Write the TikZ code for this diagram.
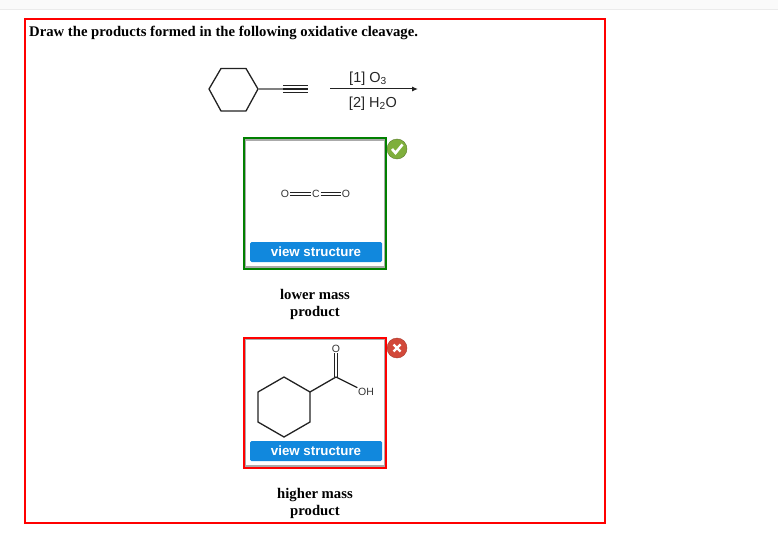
\documentclass[tikz,border=0pt]{standalone}
\usepackage{fontspec}
\setmainfont{Liberation Serif}
\newfontfamily\chemfont{Liberation Sans}
\usetikzlibrary{calc,positioning,arrows.meta}
\definecolor{btnblue}{HTML}{1188DD}
\definecolor{okgreen}{HTML}{008000}
\definecolor{okball}{HTML}{7FAF3C}
\definecolor{badball}{HTML}{D2493A}
\definecolor{innergray}{HTML}{AAAAAA}
\definecolor{bondgray}{HTML}{222222}
\tikzset{
  caption/.style={font=\fontsize{14.7}{17}\selectfont\bfseries,inner sep=0pt,align=center},
  reagent/.style={font=\chemfont\fontsize{14.5}{16}\selectfont,text=black!85,inner sep=0pt},
  atom/.style={font=\chemfont\fontsize{10.5}{11}\selectfont,inner sep=.6pt,text=black!80},
  bond/.style={line width=1.3pt,color=bondgray},
  thinbond/.style={line width=1.1pt,color=bondgray},
  viewbtn/.style={fill=btnblue,rounded corners=1.5pt,text=white,minimum width=132pt,minimum height=20pt,inner sep=0pt,font=\chemfont\fontsize{13.3}{15}\selectfont\bfseries},
  answer/.style={draw,line width=2pt,minimum width=142.5pt,minimum height=130pt,inner sep=0pt},
  inner/.style={draw=innergray,line width=1.2pt,minimum width=139.5pt,minimum height=127pt,inner sep=0pt},
  ball/.style={circle,minimum size=20pt,inner sep=0pt}
}
\begin{document}
\begin{tikzpicture}[x=1pt,y=-1pt]
\useasboundingbox (0,0) rectangle (778,540);
\fill[black!2] (0,0) rectangle (778,9);
\draw[black!8,line width=1pt] (0,9.5) -- (778,9.5);

\node[draw=red,line width=2pt,minimum width=580pt,minimum height=504pt,inner sep=0pt] (frame) at (315,271) {};
\node[caption,anchor=west] (title) at (29,33) {Draw the products formed in the following oxidative cleavage.};

% reactant
\coordinate (r1) at (209,89);
\coordinate (r2) at (221,68.5);
\coordinate (r3) at (246,68.5);
\coordinate (r4) at (258,89);
\coordinate (r5) at (246,111);
\coordinate (r6) at (221,111);
\coordinate (t1) at (283,89);
\coordinate (t2) at (308,89);
\draw[bond] (r1) -- (r2) -- (r3) -- (r4) -- (r5) -- (r6) -- cycle;
\draw[bond,black!50] (r4) -- (t1);
\draw[bond] (t1) -- (t2);
\draw[bond] ([yshift=-3.8pt]t1) -- ([yshift=-3.8pt]t2);
\draw[bond] ([yshift=3.8pt]t1) -- ([yshift=3.8pt]t2);

\coordinate (a1) at (330,89);
\coordinate (a2) at (418,89);
\draw[line width=1pt,color=bondgray,-{Latex[length=6pt,width=5pt]}] (a1) -- (a2);
\node[reagent] (ozone) at (368,78.5) {[1] O\textsubscript{3}};
\node[reagent] (water) at (373,103.5) {[2] H\textsubscript{2}O};

% lower mass product
\node[inner] (box1) at (315,203.5) {};
\node[answer,draw=okgreen] (outer1) at (315,203.5) {};
\node[atom] (o1) at (285,194) {O};
\node[atom] (c1) at (316,194) {C};
\node[atom] (o2) at (346,194) {O};
\draw[thinbond] ([yshift=-1.5pt]o1.east) -- ([yshift=-1.5pt]c1.west);
\draw[thinbond] ([yshift=1.5pt]o1.east) -- ([yshift=1.5pt]c1.west);
\draw[thinbond] ([yshift=-1.5pt]c1.east) -- ([yshift=-1.5pt]o2.west);
\draw[thinbond] ([yshift=1.5pt]c1.east) -- ([yshift=1.5pt]o2.west);
\node[viewbtn] (btn1) at (316,252) {view structure};
\node[ball,fill=okball,draw=okball!70!black] (check) at (397,149) {};
\draw[white,line width=2.6pt] ([shift={(-5,0)}]check.center) -- ([shift={(-1.5,4)}]check.center) -- ([shift={(5.5,-4.5)}]check.center);
\node[caption] (lower) at (315,304) {lower mass\\product};

% higher mass product
\node[inner] (box2) at (315,402.5) {};
\node[answer,draw=red] (outer2) at (315,402.5) {};
\coordinate (h1) at (284,377);
\coordinate (h2) at (310,392);
\coordinate (h3) at (310,422);
\coordinate (h4) at (284,437);
\coordinate (h5) at (258,422);
\coordinate (h6) at (258,392);
\coordinate (c2) at (336,377);
\node[atom] (o3) at (336,348.5) {O};
\node[atom] (oh) at (366,392) {OH};
\draw[bond] (h1) -- (h2) -- (h3) -- (h4) -- (h5) -- (h6) -- cycle;
\draw[bond] (h2) -- (c2);
\draw[bond] (c2) -- (oh);
\draw[thinbond] ([xshift=-1.5pt]c2) -- ([xshift=-1.5pt]o3.south);
\draw[thinbond] ([xshift=1.5pt]c2) -- ([xshift=1.5pt]o3.south);
\node[viewbtn] (btn2) at (316,451) {view structure};
\node[ball,fill=badball,draw=badball!80!black] (cross) at (397,348) {};
\draw[white,line width=2.2pt] ([shift={(-3.5,-3.5)}]cross.center) -- ([shift={(3.5,3.5)}]cross.center);
\draw[white,line width=2.2pt] ([shift={(-3.5,3.5)}]cross.center) -- ([shift={(3.5,-3.5)}]cross.center);
\node[caption] (higher) at (315,503) {higher mass\\product};
\end{tikzpicture}
\end{document}
